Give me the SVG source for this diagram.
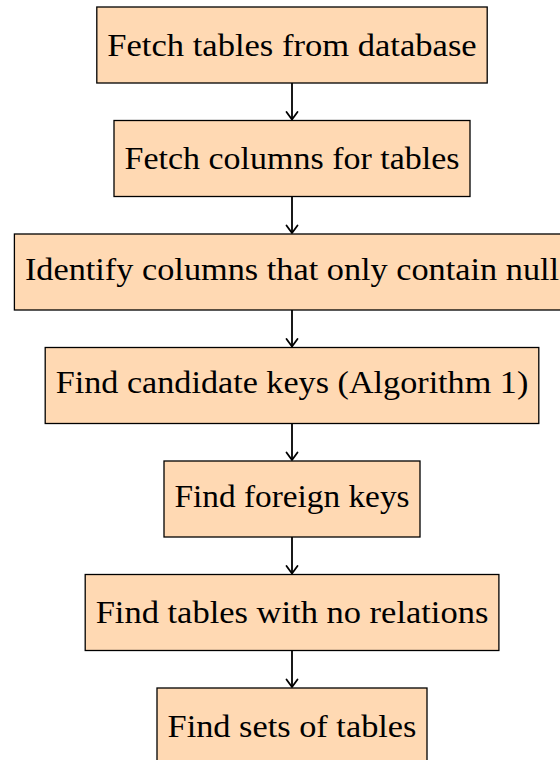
<svg xmlns="http://www.w3.org/2000/svg" width="560" height="760" viewBox="0 0 560 760">
  <style>
    .box { fill: #FFD9B3; stroke: #000; stroke-width: 1.3; }
    .label { font-family: "Liberation Serif", "DejaVu Serif", serif; font-size: 32px; fill: #000; text-anchor: middle; }
    .edge { stroke: #000; stroke-width: 1.8; fill: none; }
  </style>
  <defs>
    <marker id="tip" markerUnits="userSpaceOnUse" viewBox="-10 -7 12 14" markerWidth="12" markerHeight="14" refX="0" refY="0" orient="auto">
      <path d="M -7.5 -5.5 Q -2 -1.5 0 0 Q -2 1.5 -7.5 5.5" fill="none" stroke="#000" stroke-width="1.8" stroke-linecap="round" stroke-linejoin="round"/>
    </marker>
  </defs>
  <rect width="560" height="760" fill="#fff"/>

  <g id="edges">
    <line class="edge" x1="292" y1="83" x2="292" y2="119.5" marker-end="url(#tip)"/>
    <line class="edge" x1="292" y1="196.5" x2="292" y2="233" marker-end="url(#tip)"/>
    <line class="edge" x1="292" y1="310" x2="292" y2="346.5" marker-end="url(#tip)"/>
    <line class="edge" x1="292" y1="423.5" x2="292" y2="460" marker-end="url(#tip)"/>
    <line class="edge" x1="292" y1="537" x2="292" y2="573.5" marker-end="url(#tip)"/>
    <line class="edge" x1="292" y1="650.5" x2="292" y2="687" marker-end="url(#tip)"/>
  </g>

  <g id="fetch-tables">
    <rect class="box" x="96.8" y="7" width="390.4" height="76"/>
    <text class="label" x="292" y="55.8" textLength="369.4" lengthAdjust="spacingAndGlyphs">Fetch tables from database</text>
  </g>
  <g id="fetch-columns">
    <rect class="box" x="114" y="120.5" width="356" height="76"/>
    <text class="label" x="292" y="169.3" textLength="335" lengthAdjust="spacingAndGlyphs">Fetch columns for tables</text>
  </g>
  <g id="null-columns">
    <rect class="box" x="14.4" y="234" width="555.2" height="76"/>
    <text class="label" x="292" y="279.8" textLength="534.2" lengthAdjust="spacingAndGlyphs">Identify columns that only contain null</text>
  </g>
  <g id="candidate-keys">
    <rect class="box" x="45.2" y="347.5" width="493.6" height="76"/>
    <text class="label" x="292" y="393.3" textLength="472.6" lengthAdjust="spacingAndGlyphs">Find candidate keys (Algorithm 1)</text>
  </g>
  <g id="foreign-keys">
    <rect class="box" x="164" y="461" width="256" height="76"/>
    <text class="label" x="292" y="506.8" textLength="235" lengthAdjust="spacingAndGlyphs">Find foreign keys</text>
  </g>
  <g id="no-relations">
    <rect class="box" x="85.2" y="574.5" width="413.7" height="76"/>
    <text class="label" x="292" y="623.3" textLength="392.7" lengthAdjust="spacingAndGlyphs">Find tables with no relations</text>
  </g>
  <g id="table-sets">
    <rect class="box" x="157" y="688" width="270" height="76"/>
    <text class="label" x="292" y="736.8" textLength="248.9" lengthAdjust="spacingAndGlyphs">Find sets of tables</text>
  </g>
</svg>
